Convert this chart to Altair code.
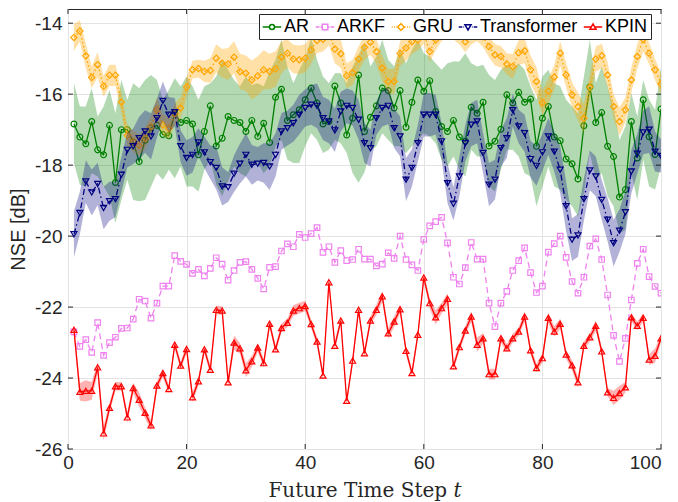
import altair as alt
import pandas as pd

t = list(range(1, 101))

ar_mean = [-16.84, -17.21, -17.40, -16.77, -17.57, -17.71, -16.88, -18.49, -17.00, -17.00,
           -17.35, -17.90, -17.30, -16.95, -16.88, -17.14, -17.17, -16.53, -16.80, -16.74,
           -16.84, -17.71, -17.05, -16.33, -17.46, -17.24, -16.63, -16.74, -16.80, -17.05,
           -16.74, -17.19, -16.82, -17.36, -16.09, -15.86, -16.74, -16.58, -16.44, -16.16,
           -15.83, -16.25, -16.84, -16.77, -15.77, -16.25, -17.15, -16.68, -15.46, -17.05,
           -16.65, -16.33, -15.83, -15.90, -16.39, -15.90, -16.93, -16.23, -15.60, -15.92,
           -15.62, -16.49, -16.91, -17.05, -16.74, -17.21, -17.33, -16.37, -16.54, -16.23,
           -17.46, -17.33, -16.99, -16.02, -16.25, -15.95, -16.23, -16.14, -17.47, -16.68,
           -16.35, -17.21, -17.31, -17.83, -17.96, -18.39, -16.89, -15.80, -16.80, -16.52,
           -17.47, -17.76, -18.90, -18.69, -16.77, -17.80, -16.16, -17.20, -17.70, -16.42]
ar_high = [-15.69, -16.35, -16.35, -15.83, -16.63, -16.35, -15.88, -16.54, -15.60, -16.16,
           -15.69, -15.83, -15.60, -15.46, -15.60, -16.16, -15.88, -15.55, -15.78, -15.50,
           -15.78, -16.16, -15.78, -15.69, -15.50, -15.03, -15.31, -15.60, -15.78, -15.50,
           -15.74, -15.69, -15.78, -15.36, -15.03, -14.47, -15.22, -15.69, -15.31, -14.99,
           -14.42, -15.03, -15.50, -15.69, -15.41, -15.41, -15.69, -15.22, -14.89, -14.56,
           -15.22, -14.94, -14.47, -15.03, -15.22, -14.75, -15.13, -14.75, -14.47, -14.85,
           -14.94, -15.13, -15.31, -15.13, -15.08, -15.08, -14.85, -15.13, -15.22, -15.17,
           -15.46, -15.60, -15.31, -15.17, -15.27, -15.13, -15.31, -15.78, -16.16, -15.50,
           -15.31, -15.69, -15.78, -16.16, -16.35, -16.54, -15.50, -14.47, -15.69, -15.22,
           -15.78, -16.35, -17.29, -16.91, -15.97, -16.63, -15.60, -16.16, -16.44, -15.22]
ar_low = [-17.94, -18.55, -18.60, -18.23, -18.32, -18.60, -18.88, -19.63, -18.98, -18.41,
          -18.98, -19.02, -18.98, -18.60, -18.23, -18.41, -18.13, -18.37, -18.04, -18.60,
          -18.60, -18.74, -18.13, -17.85, -18.55, -18.88, -18.46, -18.04, -18.23, -18.32,
          -18.04, -17.94, -18.23, -18.04, -17.47, -17.29, -17.85, -17.94, -17.94, -17.47,
          -17.10, -17.29, -17.66, -17.57, -17.29, -17.38, -17.66, -18.23, -18.50, -18.20,
          -17.60, -17.47, -17.10, -17.29, -17.47, -17.47, -17.66, -17.47, -17.29, -17.10,
          -17.19, -17.38, -17.85, -18.04, -17.76, -18.13, -18.32, -17.57, -17.76, -17.76,
          -18.60, -18.74, -18.13, -17.57, -17.57, -17.76, -18.23, -18.32, -19.16, -18.60,
          -18.04, -18.60, -18.69, -18.98, -19.16, -19.45, -18.79, -17.66, -18.41, -18.23,
          -18.88, -19.16, -19.92, -19.82, -18.23, -18.98, -17.85, -18.60, -18.69, -18.04]

arkf_mean = [-22.70, -23.11, -22.92, -23.28, -22.44, -23.36, -23.00, -22.85, -22.60, -22.59,
             -22.34, -21.78, -21.83, -22.31, -21.89, -21.41, -21.41, -20.55, -20.71, -20.80,
             -21.05, -20.94, -21.12, -20.91, -20.61, -20.79, -21.24, -20.97, -20.74, -20.72,
             -20.94, -21.19, -21.49, -20.88, -20.86, -20.42, -20.22, -20.30, -19.95, -20.04,
             -19.93, -19.76, -20.46, -20.30, -20.74, -20.41, -20.69, -20.66, -20.37, -20.65,
             -20.65, -20.84, -20.79, -20.47, -20.63, -20.00, -20.66, -20.81, -20.97, -20.09,
             -19.71, -19.59, -19.47, -20.19, -21.16, -21.35, -20.89, -20.18, -20.65, -20.65,
             -21.89, -22.55, -21.89, -21.56, -20.97, -20.69, -20.33, -21.03, -21.59, -21.41,
             -20.45, -20.21, -20.00, -20.60, -21.28, -21.61, -21.16, -20.28, -20.08, -20.66,
             -21.66, -22.80, -23.53, -22.88, -21.80, -20.77, -20.37, -21.14, -21.42, -21.61]

gru_mean = [-14.40, -14.22, -14.92, -15.53, -15.17, -15.78, -15.47, -15.47, -16.23, -17.16,
            -17.33, -17.44, -17.24, -16.92, -16.44, -16.86, -16.96, -16.56, -16.39, -15.80,
            -15.31, -15.28, -15.36, -15.33, -14.99, -15.13, -15.15, -14.96, -15.36, -15.41,
            -15.60, -15.48, -15.31, -15.36, -15.29, -14.96, -14.85, -15.01, -15.03, -14.99,
            -14.75, -14.49, -14.45, -14.28, -14.73, -14.86, -15.48, -15.39, -15.01, -14.68,
            -14.54, -14.80, -15.27, -15.64, -15.64, -14.85, -14.70, -14.52, -14.47, -14.28,
            -14.80, -14.47, -14.20, -14.10, -14.15, -14.30, -14.52, -14.30, -14.20, -14.38,
            -14.66, -14.89, -14.94, -15.15, -15.22, -14.83, -14.78, -15.31, -15.64, -16.25,
            -15.92, -15.52, -14.85, -15.46, -16.02, -16.35, -16.68, -15.80, -15.01, -14.92,
            -15.46, -16.35, -16.77, -16.44, -15.60, -14.94, -14.45, -14.85, -15.31, -15.71]
gru_hw = [0.38, 0.30, 0.35, 0.30, 0.35, 0.30, 0.30, 0.30, 0.30, 0.30,
          0.30, 0.30, 0.30, 0.30, 0.35, 0.30, 0.30, 0.30, 0.30, 0.30,
          0.25, 0.25, 0.30, 0.35, 0.40, 0.40, 0.45, 0.45, 0.50, 0.50,
          0.55, 0.55, 0.55, 0.50, 0.50, 0.45, 0.40, 0.40, 0.40, 0.40,
          0.40, 0.35, 0.35, 0.35, 0.40, 0.40, 0.35, 0.35, 0.35, 0.35,
          0.35, 0.35, 0.35, 0.35, 0.35, 0.35, 0.35, 0.35, 0.30, 0.30,
          0.30, 0.30, 0.30, 0.30, 0.30, 0.30, 0.30, 0.30, 0.30, 0.30,
          0.30, 0.30, 0.30, 0.30, 0.35, 0.35, 0.35, 0.40, 0.40, 0.35,
          0.35, 0.35, 0.35, 0.35, 0.35, 0.40, 0.40, 0.35, 0.35, 0.35,
          0.35, 0.35, 0.40, 0.35, 0.35, 0.35, 0.35, 0.30, 0.30, 0.30]

tr_mean = [-19.95, -19.35, -18.46, -18.77, -18.53, -19.21, -19.02, -18.96, -18.27, -17.57,
           -17.47, -17.24, -17.05, -17.19, -16.68, -16.19, -16.58, -16.51, -17.47, -17.80,
           -17.71, -17.36, -17.64, -17.92, -18.08, -18.60, -18.62, -18.24, -17.96, -17.71,
           -17.99, -17.96, -17.94, -18.04, -17.71, -17.05, -16.96, -16.82, -16.58, -16.39,
           -16.30, -16.33, -16.68, -16.77, -17.02, -16.49, -16.33, -16.39, -16.72, -17.38,
           -17.52, -16.68, -16.39, -16.33, -16.96, -17.19, -18.41, -18.08, -17.38, -16.58,
           -16.58, -16.58, -17.33, -18.51, -19.09, -18.32, -17.38, -16.86, -16.77, -17.66,
           -18.55, -18.41, -17.52, -17.24, -16.45, -16.91, -17.10, -17.83, -18.02, -17.64,
           -17.19, -17.62, -18.13, -19.16, -20.10, -19.98, -18.96, -18.15, -18.32, -18.98,
           -19.54, -20.20, -19.85, -19.33, -18.18, -17.68, -17.08, -17.00, -17.62, -17.74]
tr_hw = [0.65, 0.60, 0.60, 0.65, 0.60, 0.60, 0.55, 0.50, 0.50, 0.50,
         0.50, 0.60, 0.60, 0.65, 0.55, 0.55, 0.50, 0.40, 0.45, 0.50,
         0.50, 0.40, 0.45, 0.47, 0.61, 0.54, 0.42, 0.52, 0.56, 0.61,
         0.56, 0.47, 0.56, 0.66, 0.61, 0.52, 0.49, 0.52, 0.56, 0.52,
         0.56, 0.63, 0.61, 0.61, 0.61, 0.56, 0.49, 0.49, 0.56, 0.56,
         0.52, 0.47, 0.52, 0.52, 0.56, 0.56, 0.61, 0.52, 0.52, 0.61,
         0.61, 0.56, 0.52, 0.56, 0.47, 0.56, 0.52, 0.61, 0.61, 0.56,
         0.61, 0.56, 0.52, 0.56, 0.47, 0.47, 0.52, 0.52, 0.56, 0.52,
         0.52, 0.56, 0.66, 0.70, 0.60, 0.60, 0.60, 0.56, 0.56, 0.56,
         0.61, 0.66, 0.60, 0.61, 0.61, 0.56, 0.61, 0.66, 0.56, 0.47]

kpin_mean = [-22.64, -24.39, -24.36, -24.36, -23.70, -25.56, -24.84, -24.23, -24.23, -25.11,
             -24.28, -24.61, -24.98, -25.33, -24.21, -23.86, -24.31, -23.06, -23.65, -23.18,
             -24.54, -24.09, -23.19, -23.77, -22.08, -22.10, -24.12, -23.00, -23.16, -23.78,
             -23.53, -23.14, -23.58, -22.47, -23.19, -22.59, -22.44, -22.10, -22.03, -21.97,
             -22.48, -22.97, -23.93, -21.30, -23.09, -22.38, -24.64, -23.51, -22.08, -23.30,
             -22.38, -22.08, -21.70, -22.74, -22.41, -22.06, -23.23, -23.86, -22.78, -21.17,
             -21.89, -22.29, -22.03, -21.77, -23.67, -23.13, -22.66, -22.27, -23.06, -22.88,
             -23.89, -23.89, -22.88, -23.16, -22.88, -22.69, -22.27, -23.22, -23.72, -23.44,
             -22.30, -22.69, -22.47, -23.34, -23.64, -24.12, -23.09, -22.85, -22.53, -23.25,
             -24.40, -24.56, -24.42, -24.26, -22.29, -22.53, -22.30, -23.48, -23.37, -22.88]
kpin_hw = [0.15, 0.25, 0.30, 0.25, 0.15, 0.20, 0.15, 0.12, 0.12, 0.15,
           0.15, 0.20, 0.15, 0.15, 0.12, 0.12, 0.12, 0.12, 0.12, 0.12,
           0.15, 0.12, 0.12, 0.12, 0.12, 0.12, 0.15, 0.20, 0.15, 0.20,
           0.15, 0.12, 0.12, 0.12, 0.12, 0.12, 0.12, 0.15, 0.15, 0.15,
           0.12, 0.12, 0.12, 0.12, 0.12, 0.12, 0.12, 0.12, 0.12, 0.12,
           0.12, 0.15, 0.15, 0.15, 0.15, 0.12, 0.12, 0.12, 0.12, 0.12,
           0.15, 0.20, 0.15, 0.15, 0.12, 0.12, 0.12, 0.15, 0.20, 0.15,
           0.15, 0.15, 0.12, 0.12, 0.12, 0.12, 0.15, 0.12, 0.12, 0.12,
           0.15, 0.15, 0.15, 0.12, 0.15, 0.15, 0.12, 0.12, 0.15, 0.12,
           0.12, 0.20, 0.20, 0.15, 0.12, 0.12, 0.12, 0.15, 0.20, 0.12]

x_ticks = [0, 20, 40, 60, 80, 100]
y_ticks = [-26, -24, -22, -20, -18, -16, -14]

names = ["AR", "ARKF", "GRU", "Transformer", "KPIN"]
colors = ["#008000", "#EE82EE", "#FFA500", "#000080", "#FF0000"]

W, H = 593, 440
XDOM = [0, 100]
YDOM = [-26, -13.6]
TXT = "#262626"

xaxis = alt.Axis(values=x_ticks, title="Future Time Step 𝑡", grid=True, ticks=False,
                 domain=False, labelFont="Liberation Sans", labelFontSize=19,
                 labelColor=TXT, labelPadding=4, labelFlush=False,
                 labelAlign={"expr": "datum.value == 100 ? 'right' : 'center'"},
                 gridColor="#e3e3e3", gridWidth=1,
                 titleFont="DejaVu Serif", titleFontSize=20, titleFontWeight="normal",
                 titleColor=TXT, titlePadding=8)
yaxis = alt.Axis(values=y_ticks, title="NSE [dB]", grid=True, ticks=False, domain=False,
                 labelExpr="'' + datum.value", labelFont="Liberation Sans", labelFontSize=19,
                 labelColor=TXT, labelPadding=6, labelFlush=False,
                 gridColor="#e3e3e3", gridWidth=1,
                 titleFont="Liberation Sans", titleFontSize=20, titleFontWeight="normal",
                 titleColor=TXT, titlePadding=6)


def X(field):
    return alt.X(f"{field}:Q", scale=alt.Scale(domain=XDOM, nice=False, zero=False), axis=xaxis)


def Y(field):
    return alt.Y(f"{field}:Q", scale=alt.Scale(domain=YDOM, nice=False, zero=False), axis=yaxis)


def band(lo, hi, color, op):
    df = pd.DataFrame({"t": t, "lo": lo, "hi": hi})
    return alt.Chart(df).mark_area(color=color, opacity=op, clip=True).encode(
        x=X("t"), y=Y("lo"), y2=alt.Y2("hi"))


def line(vals, color, dash):
    df = pd.DataFrame({"t": t, "v": vals})
    kw = dict(color=color, strokeWidth=1.3, clip=True)
    if dash:
        kw["strokeDash"] = dash
    return alt.Chart(df).mark_line(**kw).encode(x=X("t"), y=Y("v"))


def pts(vals, color, shape, size):
    df = pd.DataFrame({"t": t, "v": vals})
    return alt.Chart(df).mark_point(shape=shape, size=size, filled=False, color=color,
                                    strokeWidth=1.2, opacity=1, clip=True).encode(
        x=X("t"), y=Y("v"))


gru_lo = [m - h for m, h in zip(gru_mean, gru_hw)]
gru_hi = [m + h for m, h in zip(gru_mean, gru_hw)]
tr_lo = [m - h for m, h in zip(tr_mean, tr_hw)]
tr_hi = [m + h for m, h in zip(tr_mean, tr_hw)]
kp_lo = [m - h for m, h in zip(kpin_mean, kpin_hw)]
kp_hi = [m + h for m, h in zip(kpin_mean, kpin_hw)]

layers = [
    band(ar_low, ar_high, colors[0], 0.3),
    line(ar_mean, colors[0], None),
    pts(ar_mean, colors[0], "circle", 34),
    line(arkf_mean, colors[1], [6, 4]),
    pts(arkf_mean, colors[1], "square", 30),
    band(gru_lo, gru_hi, colors[2], 0.35),
    line(gru_mean, colors[2], [1.5, 2.5]),
    pts(gru_mean, colors[2], "diamond", 40),
    band(tr_lo, tr_hi, colors[3], 0.3),
    line(tr_mean, colors[3], [6, 3, 1.5, 3]),
    pts(tr_mean, colors[3], "triangle-down", 36),
    band(kp_lo, kp_hi, colors[4], 0.3),
    line(kpin_mean, colors[4], None),
    pts(kpin_mean, colors[4], "triangle-up", 36),
]

xt = pd.DataFrame({"t": x_ticks})
yt = pd.DataFrame({"v": y_ticks})
layers += [
    alt.Chart(xt).mark_rule(color=TXT).encode(x=X("t"), y=alt.value(H), y2=alt.value(H - 5)),
    alt.Chart(xt).mark_rule(color=TXT).encode(x=X("t"), y=alt.value(0), y2=alt.value(5)),
    alt.Chart(yt).mark_rule(color=TXT).encode(y=Y("v"), x=alt.value(0), x2=alt.value(5)),
    alt.Chart(yt).mark_rule(color=TXT).encode(y=Y("v"), x=alt.value(W - 5), x2=alt.value(W)),
]

paths = [
    "M-1,0L-0.27,0M0.27,0L1,0M0.27,0A0.27,0.27,0,1,1,-0.27,0A0.27,0.27,0,1,1,0.27,0Z",
    "M-1,0L-0.6,0M-0.48,0L-0.3,0M0.3,0L0.48,0M0.6,0L1,0M-0.3,-0.3L0.3,-0.3L0.3,0.3L-0.3,0.3Z",
    "M-1,0L-0.9,0M-0.75,0L-0.65,0M-0.5,0L-0.4,0M0.4,0L0.5,0M0.65,0L0.75,0M0.9,0L1,0"
    "M0,-0.36L0.36,0L0,0.36L-0.36,0Z",
    "M-1,0L-0.62,0M-0.5,0L-0.42,0M0.42,0L0.5,0M0.62,0L1,0M-0.33,-0.25L0.33,-0.25L0,0.33Z",
    "M-1,0L-0.22,0M0.22,0L1,0M0,-0.33L0.33,0.25L-0.33,0.25Z",
]

leg = alt.Legend(title=None, orient="none", legendX=191, legendY=5, direction="horizontal",
                 labelFont="Liberation Sans", labelFontSize=18, labelColor="black",
                 symbolSize=342, symbolStrokeWidth=1.5, symbolOpacity=1,
                 strokeColor=TXT, fillColor="white", padding=3, columnPadding=2,
                 labelOffset=2, gridAlign="none", labelLimit=300, offset=0)

leg_df = pd.DataFrame({"series": names})
layers.append(
    alt.Chart(leg_df).mark_point(size=342, opacity=0, filled=False, strokeWidth=1.5).encode(
        x=alt.value(0), y=alt.value(0),
        color=alt.Color("series:N", scale=alt.Scale(domain=names, range=colors), legend=leg),
        shape=alt.Shape("series:N", scale=alt.Scale(domain=names, range=paths), legend=leg),
    )
)

chart = alt.layer(*layers).properties(
    width=W, height=H,
    autosize=alt.AutoSizeParams(type="none"),
    padding={"left": 60, "top": 1, "right": 9, "bottom": 53},
).configure(background="white").configure_view(stroke=TXT, strokeWidth=1)

chart.save("out.html", embed_options={"renderer": "svg", "actions": False})
